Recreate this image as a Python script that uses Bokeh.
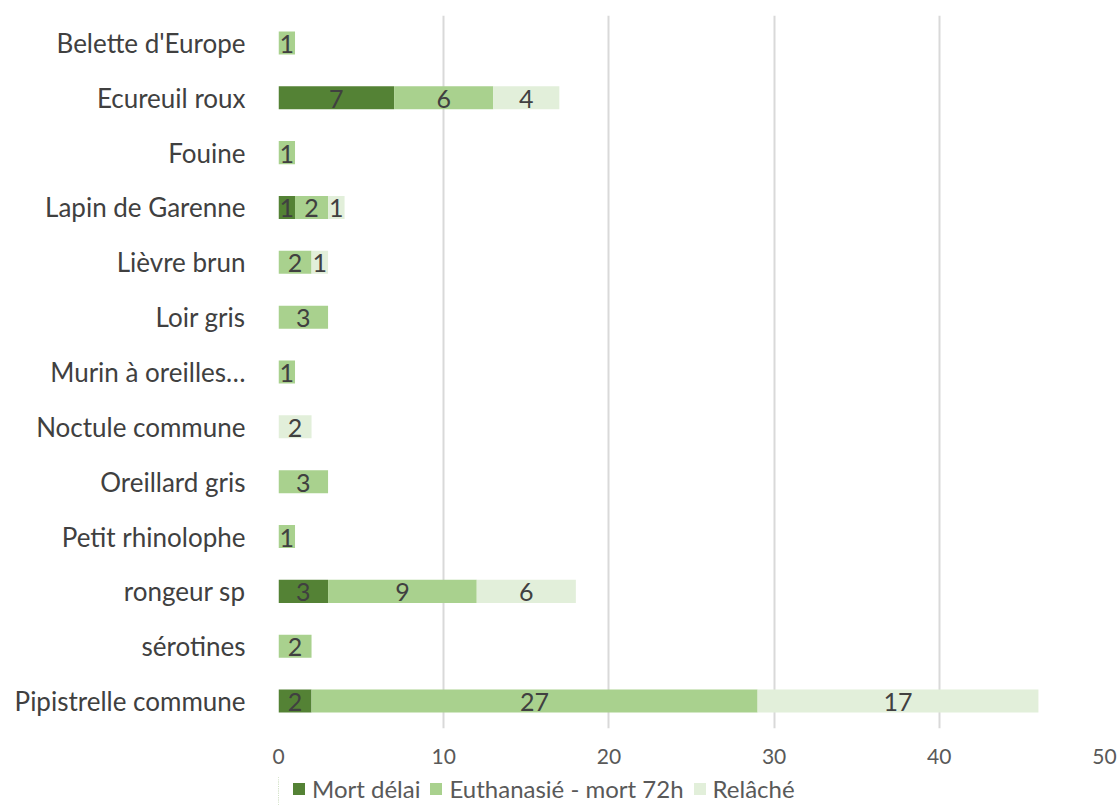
from bokeh.plotting import figure
from bokeh.layouts import column
from bokeh.models import FixedTicker, Legend, LegendItem, ColumnDataSource
from bokeh.core.properties import value
from bokeh.embed import file_html
from bokeh.resources import INLINE

# Species, listed top to bottom
species = [
    "Belette d'Europe", "Ecureuil roux", "Fouine", "Lapin de Garenne",
    "Lièvre brun", "Loir gris", "Murin à oreilles…", "Noctule commune",
    "Oreillard gris", "Petit rhinolophe", "rongeur sp", "sérotines",
    "Pipistrelle commune",
]
mort_delai = [0, 7, 0, 1, 0, 0, 0, 0, 0, 0, 3, 0, 2]
euthanasie = [1, 6, 1, 2, 2, 3, 1, 0, 3, 1, 9, 2, 27]
relache = [0, 4, 0, 1, 1, 0, 0, 2, 0, 0, 6, 0, 17]

series_names = ["Mort délai", "Euthanasié - mort 72h", "Relâché"]
series_keys = ["mort", "euth", "rel"]
colors = ["#548235", "#A9D18E", "#E2EFDA"]
x_ticks = [0, 10, 20, 30, 40, 50]

FONT = "Lato"

source = ColumnDataSource(dict(species=species, mort=mort_delai,
                               euth=euthanasie, rel=relache))

# Main chart: stacked horizontal bars
p = figure(
    width=1118, height=776,
    y_range=list(reversed(species)), x_range=(0, 50),
    output_backend="svg", toolbar_location=None,
    min_border_left=278, min_border_right=14,
    min_border_top=15, min_border_bottom=48,
    outline_line_color=None,
)

p.hbar_stack(series_keys, y="species", height=0.42, color=colors,
             line_color=None, source=source)

# Value labels centred in each non-empty segment
lab_x, lab_y, lab_t = [], [], []
for i, name in enumerate(species):
    left = 0
    for vals in (mort_delai, euthanasie, relache):
        v = vals[i]
        if v > 0:
            lab_x.append(left + v / 2)
            lab_y.append(name)
            lab_t.append(str(v))
        left += v
p.text(x=lab_x, y=lab_y, text=lab_t, text_align="center",
       text_baseline="middle", text_color="#404040",
       text_font=value(FONT), text_font_size="25px", y_offset=1)

# Axes
p.xaxis.ticker = FixedTicker(ticks=x_ticks)
p.xaxis.axis_line_color = None
p.xaxis.major_tick_line_color = None
p.xaxis.major_tick_out = 0
p.xaxis.minor_tick_line_color = None
p.xaxis.major_label_text_font = FONT
p.xaxis.major_label_text_font_size = "21px"
p.xaxis.major_label_text_color = "#595959"
p.xaxis.major_label_standoff = 20

p.yaxis.axis_line_color = None
p.yaxis.major_tick_line_color = None
p.yaxis.major_tick_out = 0
p.yaxis.minor_tick_line_color = None
p.yaxis.major_label_text_font = FONT
p.yaxis.major_label_text_font_size = "26px"
p.yaxis.major_label_text_color = "#404040"
p.yaxis.major_label_standoff = 33

p.ygrid.grid_line_color = None
p.xgrid.ticker = FixedTicker(ticks=x_ticks)
p.xgrid.grid_line_color = "#D9D9D9"
p.xgrid.grid_line_width = 2

# Legend strip under the chart; its bars sit outside the visible x range,
# only the legend swatches and labels show
lg = figure(
    width=1118, height=29, x_range=(100, 101), y_range=list(reversed(species)),
    output_backend="svg", toolbar_location=None,
    min_border=0, outline_line_color=None,
)
lg.axis.visible = False
lg.grid.visible = False
swatches = lg.hbar_stack(series_keys, y="species", height=0.42, color=colors,
                         line_color=None, source=source)

legend = Legend(
    items=[LegendItem(label=n, renderers=[r]) for n, r in zip(series_names, swatches)],
    orientation="horizontal", location=(13, 2),
    label_text_font=FONT, label_text_font_size="24px", label_text_color="#595959",
    label_height=24,
    glyph_width=15, glyph_height=15, spacing=8, label_standoff=6,
    padding=0, margin=0, border_line_color=None, background_fill_alpha=0,
)
lg.add_layout(legend, "center")

open("out.html", "w").write(file_html(column(p, lg, spacing=0), INLINE))
